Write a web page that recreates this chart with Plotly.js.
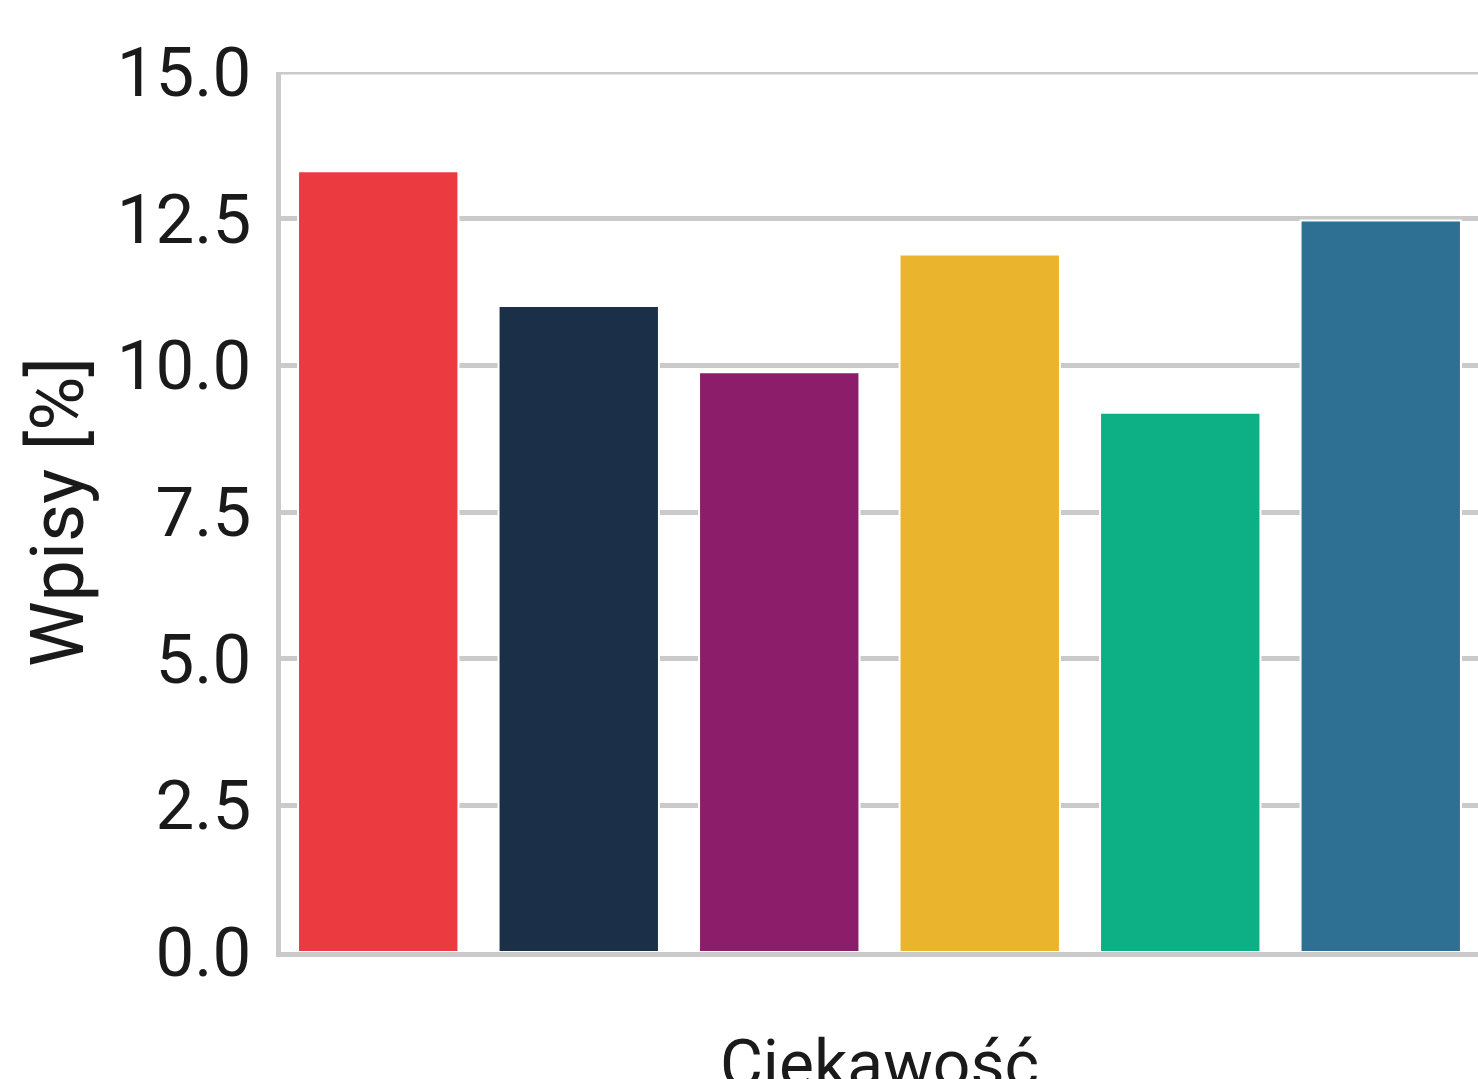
<!DOCTYPE html>
<html>
<head>
<meta charset="utf-8">
<script src="https://cdn.plot.ly/plotly-3.0.1.min.js"></script>
<style>
  html, body { margin: 0; padding: 0; overflow: hidden; background: #ffffff; }
  #chart { width: 1478px; height: 1140px; }
</style>
</head>
<body>
<div id="chart"></div>
<script>
// Data
var categories = [0, 1, 2, 3, 4, 5];
var values = [13.31, 11.01, 9.88, 11.89, 9.19, 12.47];
var barColors = ['#EC3A41', '#1B2F48', '#8B1D6A', '#EAB42C', '#0CB084', '#2E7094'];
var yTickValues = [0, 2.5, 5, 7.5, 10, 12.5, 15];
var yTickLabels = ['0.0', '2.5', '5.0', '7.5', '10.0', '12.5', '15.0'];
var xTitle = 'Ciekawość';
var yTitle = 'Wpisy [%]';

var textColor = '#1a1a1a';
var gridColor = '#cacaca';
var fontFamily = 'Roboto, "Liberation Sans", sans-serif';

var trace = {
  type: 'bar',
  x: categories,
  y: values,
  width: 0.8,
  marker: { color: barColors, line: { color: '#ffffff', width: 2 } },
  hoverinfo: 'skip'
};

var layout = {
  width: 1478,
  height: 1140,
  margin: { l: 281, r: 0, t: 72, b: 188, pad: 0 },
  paper_bgcolor: '#ffffff',
  plot_bgcolor: '#ffffff',
  showlegend: false,
  font: { family: fontFamily, size: 70, color: textColor },
  xaxis: {
    range: [-0.485, 5.485],
    showticklabels: false,
    ticks: '',
    showgrid: false,
    zeroline: false,
    showline: true,
    linecolor: gridColor,
    linewidth: 5,
    title: { text: xTitle, font: { family: fontFamily, size: 66, color: textColor }, standoff: 86 },
    automargin: false
  },
  yaxis: {
    range: [0, 15],
    tickmode: 'array',
    tickvals: yTickValues,
    ticktext: yTickLabels,
    ticks: '',
    ticklabelstandoff: 11,
    tickfont: { family: fontFamily, size: 69, color: textColor },
    showgrid: true,
    gridcolor: gridColor,
    gridwidth: 5,
    zeroline: false,
    showline: true,
    linecolor: gridColor,
    linewidth: 5,
    title: { text: yTitle, font: { family: fontFamily, size: 74, color: textColor }, standoff: 10 },
    automargin: false
  },
  shapes: [{
    type: 'line', xref: 'paper', yref: 'y',
    x0: -0.003, x1: 1, y0: 15, y1: 15,
    line: { color: gridColor, width: 5 },
    layer: 'below'
  }]
};

Plotly.newPlot('chart', [trace], layout, { staticPlot: true, displayModeBar: false });
</script>
</body>
</html>
